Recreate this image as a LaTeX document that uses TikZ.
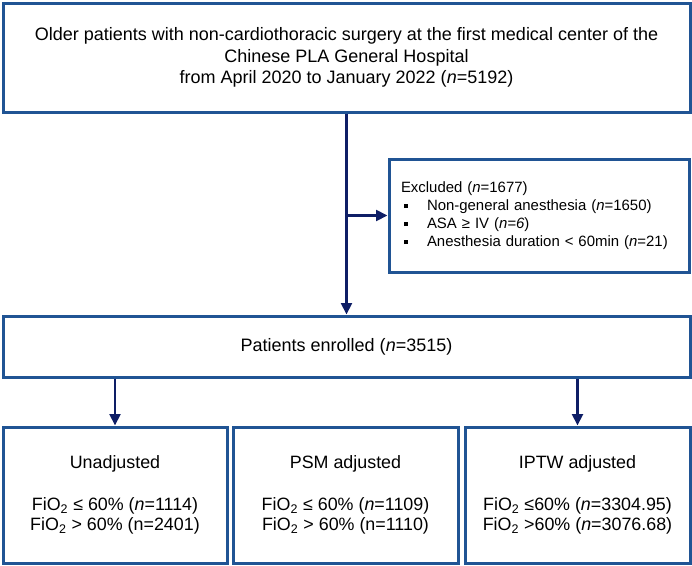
\documentclass[tikz,border=0pt]{standalone}
\usepackage{fontspec}
\setmainfont{Liberation Sans}
\usepackage{tikz}
\usetikzlibrary{arrows.meta}

\definecolor{boxblue}{RGB}{32,84,148}
\definecolor{arrownavy}{RGB}{14,30,102}

\newcommand{\sqbul}{\rule[0.3ex]{3pt}{3pt}}

\tikzset{
  flowbox/.style={draw=boxblue, line width=2.25pt, rectangle, inner sep=0pt, align=center},
  flowarrow/.style={draw=arrownavy, line width=2.1pt, -{Triangle[width=8pt,length=8.5pt]}}
}

\begin{document}
\begin{tikzpicture}[x=0.75pt,y=0.75pt,yscale=-1,xscale=1]

            \useasboundingbox (0,0) rectangle (692,565);

            % Source population
            \draw (346.5,57.5) node (source) [flowbox, minimum width=515.25pt, minimum height=81.75pt,
                  font={\fontsize{13.5}{16.1}\selectfont}]
                  {Older patients with non-cardiothoracic surgery at the first medical center of the\\
                   Chinese PLA General Hospital\\
                   from April 2020 to January 2022 (\textit{n}=5192)};

            % Exclusions
            \draw (539,215.5) node (excluded) [flowbox, minimum width=225pt, minimum height=84.75pt,
                  text width=207pt, align=left, font={\fontsize{11.2}{13.5}\selectfont}]
                  {Excluded (\textit{n}=1677)\\
                   \hspace*{2.25pt}\sqbul\hspace{14.25pt}Non-general anesthesia (\textit{n}=1650)\\
                   \hspace*{2.25pt}\sqbul\hspace{14.25pt}ASA ≥ IV (\textit{n=6})\\
                   \hspace*{2.25pt}\sqbul\hspace{14.25pt}Anesthesia duration < 60min (\textit{n}=21)};

            % Enrolled
            \draw (346.5,346.5) node (enrolled) [flowbox, minimum width=515.25pt, minimum height=45.75pt,
                  font={\fontsize{13.5}{16}\selectfont}]
                  {Patients enrolled (\textit{n}=3515)};

            % Analysis groups
            \draw (115,495) node (unadj) [flowbox, minimum width=168pt, minimum height=102pt,
                  font={\fontsize{13.4}{15}\selectfont}]
                  {Unadjusted\\[17pt]
                   FiO\textsubscript{2} ≤ 60\% (\textit{n}=1114)\\
                   FiO\textsubscript{2} > 60\% (n=2401)};
            \draw (345.5,495) node (psm) [flowbox, minimum width=168.75pt, minimum height=102pt,
                  font={\fontsize{13.4}{15}\selectfont}]
                  {PSM adjusted\\[17pt]
                   FiO\textsubscript{2} ≤ 60\% (\textit{n}=1109)\\
                   FiO\textsubscript{2} > 60\% (n=1110)};
            \draw (577.5,495) node (iptw) [flowbox, minimum width=168.75pt, minimum height=102pt,
                  font={\fontsize{13.4}{15}\selectfont}]
                  {IPTW adjusted\\[17pt]
                   FiO\textsubscript{2} ≤60\% (\textit{n}=3304.95)\\
                   FiO\textsubscript{2} >60\% (\textit{n}=3076.68)};

            % Connectors
            \coordinate (split) at (346.5,215.5);
            \draw [flowarrow] (source.south) -- (enrolled.north);
            \draw [flowarrow] (split) -- (excluded.west);
            \draw [flowarrow] (enrolled.south -| unadj.north) -- (unadj.north);
            \draw [flowarrow] (enrolled.south -| iptw.north) -- (iptw.north);

\end{tikzpicture}
\end{document}
